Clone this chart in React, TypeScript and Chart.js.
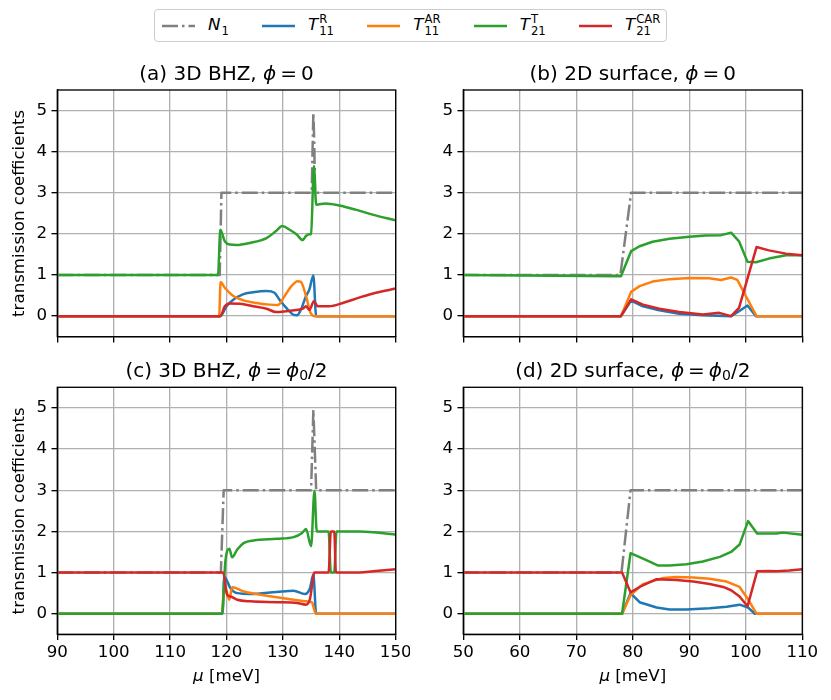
import { useEffect, useRef } from 'react'
import { Chart, registerables } from 'chart.js'

Chart.register(...registerables)

type Pt = [number, number]

const yTicks = [0, 1, 2, 3, 4, 5]
const xTicksBHZ = [90, 100, 110, 120, 130, 140, 150]
const xTicksSurf = [50, 60, 70, 80, 90, 100, 110]

// (a) 3D BHZ, phi = 0
const aN1: Pt[] = [[90, 1], [118.8, 1], [119.1, 3], [135.1, 3], [135.4, 4.95], [135.55, 4.3], [135.7, 3], [150, 3]]
const aT11R: Pt[] = [[90, 0], [118.9, 0], [120, 0.24], [121.2, 0.4], [122.9, 0.53], [124.7, 0.58], [127.1, 0.61], [128.5, 0.57], [129.4, 0.4], [130.6, 0.2], [131.8, 0.04], [132.5, 0.02], [133.2, 0.16], [134.1, 0.49], [134.7, 0.65], [135.4, 0.99], [135.9, 0], [150, 0]]
const aT11AR: Pt[] = [[90, 0], [118.7, 0], [118.95, 0.83], [119.7, 0.69], [121.2, 0.49], [122.9, 0.39], [125.3, 0.32], [127.6, 0.28], [129.1, 0.27], [130.3, 0.49], [131.5, 0.73], [132.6, 0.85], [133.2, 0.83], [134.1, 0.49], [134.9, 0.08], [135.6, 0], [150, 0]]
const aT21T: Pt[] = [[90, 1], [118.5, 1], [118.9, 2.1], [119.7, 1.82], [120.6, 1.74], [121.8, 1.73], [124.1, 1.78], [127.1, 1.9], [128.8, 2.07], [129.9, 2.19], [131.2, 2.1], [132.4, 1.99], [133.5, 1.85], [134.1, 1.95], [134.7, 1.99], [135.0, 2.0], [135.5, 3.65], [135.9, 2.71], [137.6, 2.74], [140, 2.69], [142.9, 2.59], [145.9, 2.47], [150, 2.33]]
const aT21CAR: Pt[] = [[90, 0], [118.9, 0], [119.7, 0.24], [120.6, 0.31], [122.4, 0.3], [124.7, 0.24], [127.1, 0.18], [128.8, 0.1], [130.6, 0.12], [132.4, 0.15], [133.5, 0.18], [134.1, 0.24], [134.7, 0.15], [135.5, 0.36], [136.2, 0.24], [138.2, 0.24], [140.6, 0.32], [143.5, 0.45], [146.5, 0.57], [150, 0.67]]

// (b) 2D surface, phi = 0
const bN1: Pt[] = [[50, 1], [77.8, 1], [79.7, 3], [110, 3]]
const bT11R: Pt[] = [[50, 0], [77.9, 0], [79.7, 0.38], [81.8, 0.24], [84.7, 0.14], [88.2, 0.06], [92.4, 0.02], [97.4, 0], [98.8, 0.12], [100.3, 0.26], [101.8, 0], [110, 0]]
const bT11AR: Pt[] = [[50, 0], [77.9, 0], [79.7, 0.59], [81.2, 0.73], [83.5, 0.84], [86.5, 0.9], [90, 0.93], [93.5, 0.92], [95.6, 0.88], [97.4, 0.94], [98.5, 0.88], [100, 0.49], [101.9, 0], [110, 0]]
const bT21T: Pt[] = [[50, 1], [77.9, 0.97], [79.7, 1.58], [81.2, 1.7], [83.5, 1.81], [86.5, 1.88], [90, 1.93], [92.9, 1.96], [95.6, 1.97], [97.4, 2.03], [98.8, 1.82], [100.3, 1.32], [101.8, 1.31], [104.1, 1.4], [107.1, 1.48], [110, 1.48]]
const bT21CAR: Pt[] = [[50, 0], [77.9, 0], [79.7, 0.41], [81.8, 0.28], [84.7, 0.18], [88.2, 0.1], [92.4, 0.04], [95.3, 0.08], [97.4, 0], [98.8, 0.2], [101.9, 1.68], [104.1, 1.6], [107.1, 1.52], [110, 1.48]]

// (c) 3D BHZ, phi = phi0/2
const cN1: Pt[] = [[90, 1], [119.0, 1], [119.5, 3], [135.0, 3], [135.4, 4.95], [135.6, 4.2], [135.9, 3], [150, 3]]
const cT11R: Pt[] = [[90, 0], [119.3, 0], [119.6, 0.9], [120.7, 0.62], [121.9, 0.5], [124.2, 0.48], [128.9, 0.53], [131.9, 0.56], [133.9, 0.48], [134.8, 0.62], [135.4, 0.95], [135.9, 0], [150, 0]]
const cT11AR: Pt[] = [[90, 0], [119.2, 0], [119.6, 0.7], [120.2, 0.46], [120.5, 0.34], [121.0, 0.64], [123.1, 0.54], [126, 0.46], [128.9, 0.4], [131.9, 0.34], [134.2, 0.3], [135.1, 0.28], [135.7, 0.04], [136, 0], [150, 0]]
const cT21T: Pt[] = [[90, 0], [119.2, 0], [119.8, 1.27], [120.5, 1.58], [121, 1.37], [121.9, 1.56], [123.1, 1.72], [124.8, 1.78], [128.9, 1.82], [131.9, 1.86], [133.4, 1.96], [134.1, 2.06], [135, 1.64], [135.6, 2.99], [136, 2.0], [138.1, 2.0], [138.5, 1.0], [139.1, 1.0], [139.5, 2.0], [143.6, 2.0], [150, 1.92]]
const cT21CAR: Pt[] = [[90, 1], [119.4, 1], [120.1, 0.46], [120.7, 0.42], [121.9, 0.34], [124.2, 0.3], [128.9, 0.28], [132.5, 0.26], [134.1, 0.22], [134.8, 0.36], [135.6, 1.0], [138.1, 1.0], [138.5, 2.0], [139.1, 2.0], [139.4, 1.0], [143.6, 1.0], [146, 1.03], [150, 1.08]]

// (d) 2D surface, phi = phi0/2
const dN1: Pt[] = [[50, 1], [78, 1], [79.6, 3], [110, 3]]
const dT11R: Pt[] = [[50, 0], [78.1, 0], [79.6, 0.5], [81.2, 0.28], [84.2, 0.15], [86.5, 0.1], [89.5, 0.1], [93.6, 0.13], [96.6, 0.17], [98.9, 0.22], [100.4, 0.15], [101.6, 0], [110, 0]]
const dT11AR: Pt[] = [[50, 0], [78.1, 0], [79.6, 0.45], [81.8, 0.72], [85.4, 0.87], [87.7, 0.89], [90.7, 0.88], [93.6, 0.85], [96.6, 0.78], [98.9, 0.65], [100.4, 0.35], [101.9, 0], [110, 0]]
const dT21T: Pt[] = [[50, 0], [78.1, 0], [79.6, 1.47], [82.4, 1.3], [84.5, 1.17], [86.5, 1.17], [89.5, 1.2], [92.4, 1.27], [95.4, 1.38], [97.4, 1.5], [98.9, 1.68], [100.4, 2.25], [102, 1.95], [105.4, 1.95], [106.6, 1.97], [110, 1.92]]
const dT21CAR: Pt[] = [[50, 1], [78.1, 1], [79.6, 0.52], [81.2, 0.65], [84.2, 0.84], [87.7, 0.82], [90.7, 0.78], [93.6, 0.72], [96, 0.65], [97.4, 0.57], [98.9, 0.42], [100.3, 0.18], [102, 1.03], [104.2, 1.04], [105.4, 1.03], [107.7, 1.05], [110, 1.08]]

const FONT = '"DejaVu Sans", sans-serif'
const FS = 16.67

const styles = [
  { color: '#808080', dash: [16, 4, 2.5, 4] },
  { color: '#1f77b4', dash: [] as number[] },
  { color: '#ff7f0e', dash: [] as number[] },
  { color: '#2ca02c', dash: [] as number[] },
  { color: '#d62728', dash: [] as number[] },
]

const panels = [
  { id: 'a', series: [aN1, aT11R, aT11AR, aT21T, aT21CAR], xMin: 90, xMax: 150, xTicks: xTicksBHZ, smooth: true, showX: false, yTitle: true,
    box: { left: 0, top: 80, width: 410, height: 270 }, area: { left: 57.3, top: 90, right: 395.7, bottom: 336.7 } },
  { id: 'b', series: [bN1, bT11R, bT11AR, bT21T, bT21CAR], xMin: 50, xMax: 110, xTicks: xTicksSurf, smooth: false, showX: false, yTitle: false,
    box: { left: 410, top: 80, width: 421, height: 270 }, area: { left: 463.3, top: 90, right: 802.3, bottom: 336.7 } },
  { id: 'c', series: [cN1, cT11R, cT11AR, cT21T, cT21CAR], xMin: 90, xMax: 150, xTicks: xTicksBHZ, smooth: true, showX: true, yTitle: true,
    box: { left: 0, top: 377, width: 410, height: 300 }, area: { left: 57.3, top: 387.3, right: 395.7, bottom: 634.3 } },
  { id: 'd', series: [dN1, dT11R, dT11AR, dT21T, dT21CAR], xMin: 50, xMax: 110, xTicks: xTicksSurf, smooth: false, showX: true, yTitle: false,
    box: { left: 410, top: 377, width: 421, height: 300 }, area: { left: 463.3, top: 387.3, right: 802.3, bottom: 634.3 } },
]

type Panel = (typeof panels)[number]

// draws the top and right spines too
const framePlugin = {
  id: 'frame',
  afterDraw(chart: any) {
    const { ctx, chartArea: a } = chart
    ctx.save()
    ctx.strokeStyle = '#000'
    ctx.lineWidth = 1.33
    ctx.strokeRect(a.left, a.top, a.right - a.left, a.bottom - a.top)
    ctx.restore()
  }
}

function PanelChart({ panel }: { panel: Panel }) {
  const canvasRef = useRef<HTMLCanvasElement>(null)

  useEffect(() => {
    if (!canvasRef.current) return
    const { box, area } = panel
    const yWidth = area.left - box.left
    const xHeight = box.top + box.height - area.bottom

    const datasets = panel.series.map((pts, i) => ({
      data: pts.map(([x, y]) => ({ x, y })),
      borderColor: styles[i].color,
      borderDash: styles[i].dash,
      borderWidth: 2.5,
      borderJoinStyle: 'round' as const,
      pointRadius: 0,
      fill: false,
      tension: 0,
      cubicInterpolationMode: panel.smooth && i > 0 ? ('monotone' as const) : ('default' as const),
      order: 4 - i
    }))

    const chart = new Chart(canvasRef.current, {
      type: 'line',
      data: { datasets },
      options: {
        animation: false,
        responsive: false,
        layout: {
          padding: { left: 0, bottom: 0, top: area.top - box.top, right: box.left + box.width - area.right }
        },
        plugins: {
          legend: { display: false },
          tooltip: { enabled: false },
          title: { display: false }
        },
        scales: {
          x: {
            type: 'linear',
            min: panel.xMin,
            max: panel.xMax,
            afterBuildTicks: (scale: any) => {
              scale.ticks = panel.xTicks.map((v) => ({ value: v }))
            },
            afterFit: (scale: any) => {
              scale.height = xHeight
              scale.paddingLeft = 0
              scale.paddingRight = 0
            },
            ticks: {
              display: panel.showX,
              autoSkip: false,
              maxRotation: 0,
              padding: 3,
              color: '#000',
              font: { family: FONT, size: FS }
            },
            grid: { color: '#b0b0b0', lineWidth: 1.33, tickLength: 5.8, tickColor: '#000', tickWidth: 1.33 },
            border: { color: '#000', width: 1.33 }
          },
          y: {
            type: 'linear',
            min: -0.5,
            max: 5.5,
            afterBuildTicks: (scale: any) => {
              scale.ticks = yTicks.map((v) => ({ value: v }))
            },
            afterFit: (scale: any) => {
              scale.width = yWidth
              scale.paddingTop = 0
              scale.paddingBottom = 0
            },
            ticks: { padding: 4.5, color: '#000', font: { family: FONT, size: FS } },
            grid: { color: '#b0b0b0', lineWidth: 1.33, tickLength: 5.8, tickColor: '#000', tickWidth: 1.33 },
            border: { color: '#000', width: 1.33 },
            title: {
              display: panel.yTitle,
              text: 'transmission coefficients',
              color: '#000',
              font: { family: FONT, size: FS },
              padding: { top: 10, bottom: 0 }
            }
          }
        }
      },
      plugins: [framePlugin]
    })

    return () => {
      chart.destroy()
    }
  }, [panel])

  const { box } = panel
  return (
    <canvas
      ref={canvasRef}
      width={box.width}
      height={box.height}
      style={{ position: 'absolute', left: box.left, top: box.top, width: box.width, height: box.height }}
    />
  )
}

function Sub({ children }: { children: any }) {
  return <span style={{ fontSize: '0.7em', verticalAlign: '-0.22em', lineHeight: 0 }}>{children}</span>
}

function MathLabel({ base, sup, sub }: { base: string; sup?: string; sub: string }) {
  return (
    <span style={{ whiteSpace: 'nowrap' }}>
      <span style={{ fontStyle: 'italic' }}>{base}</span>
      <span style={{ display: 'inline-flex', flexDirection: 'column', fontSize: '0.7em', lineHeight: 1.0, verticalAlign: 'middle', marginLeft: '0.08em' }}>
        <span>{sup ?? '\u200b'}</span>
        <span>{sub}</span>
      </span>
    </span>
  )
}

const legendItems = [
  { label: <MathLabel base="N" sub="1" /> },
  { label: <MathLabel base="T" sup="R" sub="11" /> },
  { label: <MathLabel base="T" sup="AR" sub="11" /> },
  { label: <MathLabel base="T" sup="T" sub="21" /> },
  { label: <MathLabel base="T" sup="CAR" sub="21" /> },
]

const phi = <span style={{ fontStyle: 'italic' }}>ϕ</span>
const titles = [
  { cx: 226.5, top: 63.1, content: <>(a) 3D BHZ, {phi}{'\u2009=\u20090'}</> },
  { cx: 632.8, top: 63.1, content: <>(b) 2D surface, {phi}{'\u2009=\u20090'}</> },
  { cx: 226.5, top: 360.4, content: <>(c) 3D BHZ, {phi}{'\u2009=\u2009'}{phi}<Sub>0</Sub>/2</> },
  { cx: 632.8, top: 360.4, content: <>(d) 2D surface, {phi}{'\u2009=\u2009'}{phi}<Sub>0</Sub>/2</> },
]
const xLabelCenters = [226.5, 632.8]

export default function App() {
  return (
    <div style={{ position: 'absolute', left: 0, top: 0, width: 831, height: 700, background: '#fff', fontFamily: FONT, color: '#000', overflow: 'hidden' }}>
      {panels.map((p) => (
        <PanelChart key={p.id} panel={p} />
      ))}

      {titles.map((t, i) => (
        <div key={i} style={{ position: 'absolute', left: t.cx - 200, top: t.top, width: 400, textAlign: 'center', fontSize: 20, lineHeight: '20px', whiteSpace: 'nowrap' }}>
          {t.content}
        </div>
      ))}

      {xLabelCenters.map((cx, i) => (
        <div key={i} style={{ position: 'absolute', left: cx - 100, top: 668.4, width: 200, textAlign: 'center', fontSize: FS, lineHeight: FS + 'px', whiteSpace: 'nowrap' }}>
          <span style={{ fontStyle: 'italic' }}>μ</span> [meV]
        </div>
      ))}

      <div style={{ position: 'absolute', left: 154, top: 9, width: 513, height: 33, boxSizing: 'border-box', border: '1px solid #cccccc', borderRadius: 4, background: 'rgba(255,255,255,0.8)', display: 'flex', alignItems: 'center', paddingLeft: 6.7, fontSize: FS }}>
        {legendItems.map((item, i) => (
          <div key={i} style={{ display: 'flex', alignItems: 'center', marginRight: 33, flexShrink: 0 }}>
            <svg width={33} height={10} style={{ display: 'block' }}>
              <line x1={0} y1={5} x2={33} y2={5} stroke={styles[i].color} strokeWidth={2.5} strokeDasharray={styles[i].dash.join(' ') || undefined} />
            </svg>
            <span style={{ marginLeft: 13.3, lineHeight: '20px' }}>{item.label}</span>
          </div>
        ))}
      </div>
    </div>
  )
}
